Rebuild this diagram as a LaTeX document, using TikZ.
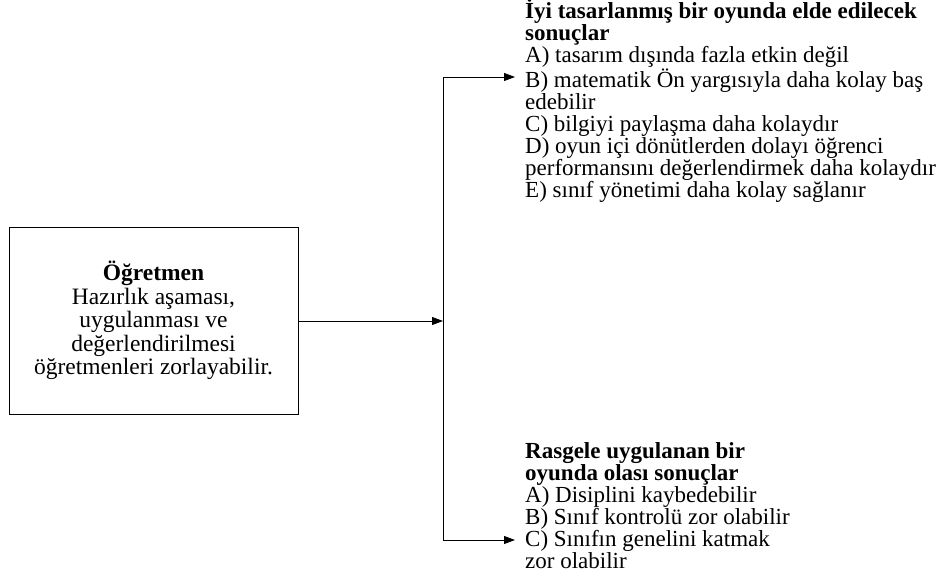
\documentclass[tikz,border=0pt]{standalone}
\usepackage{fontspec}
\setmainfont{Liberation Serif}
\usetikzlibrary{arrows.meta}
\tikzset{
	kutu/.style={draw, line width=0.8pt, minimum width=289pt, minimum height=187pt, align=center, inner sep=0pt, font=\fontsize{23.5}{23.5}\selectfont},
	metin/.style={anchor=base west, align=left, inner sep=0pt, font=\fontsize{23}{22}\selectfont},
	ok/.style={line width=0.8pt, -{Triangle[length=11pt,width=8pt]}}
}
\begin{document}
\begin{tikzpicture}[x=1pt,y=-1pt]
		\useasboundingbox (0,0) rectangle (940,576);

		\node[kutu] (ogretmen) at (153.5,320.5) {\textbf{Öğretmen}\\Hazırlık aşaması,\\uygulanması ve\\değerlendirilmesi\\öğretmenleri zorlayabilir.};

		\node[metin] (iyi) at (525,197) {\textbf{İyi tasarlanmış bir oyunda elde edilecek}\\\textbf{sonuçlar}\\A) tasarım dışında fazla etkin değil\\B) matematik Ön yargısıyla daha kolay baş\\edebilir\\C) bilgiyi paylaşma daha kolaydır\\D) oyun içi dönütlerden dolayı öğrenci\\performansını değerlendirmek daha kolaydır\\E) sınıf yönetimi daha kolay sağlanır};
		\node[metin] (rasgele) at (525,568) {\textbf{Rasgele uygulanan bir}\\\textbf{oyunda olası sonuçlar}\\A) Disiplini kaybedebilir\\B) Sınıf kontrolü zor olabilir\\C) Sınıfın genelini katmak\\zor olabilir};

		\coordinate (ayrim) at (443,321);
		\coordinate (ust) at (515,77);
		\coordinate (alt) at (515,540);

		\draw[ok] (ogretmen.east |- ayrim) -- (ayrim);
		\draw[ok] (ayrim) |- (ust);
		\draw[ok] (ayrim) |- (alt);
	\end{tikzpicture}
\end{document}
